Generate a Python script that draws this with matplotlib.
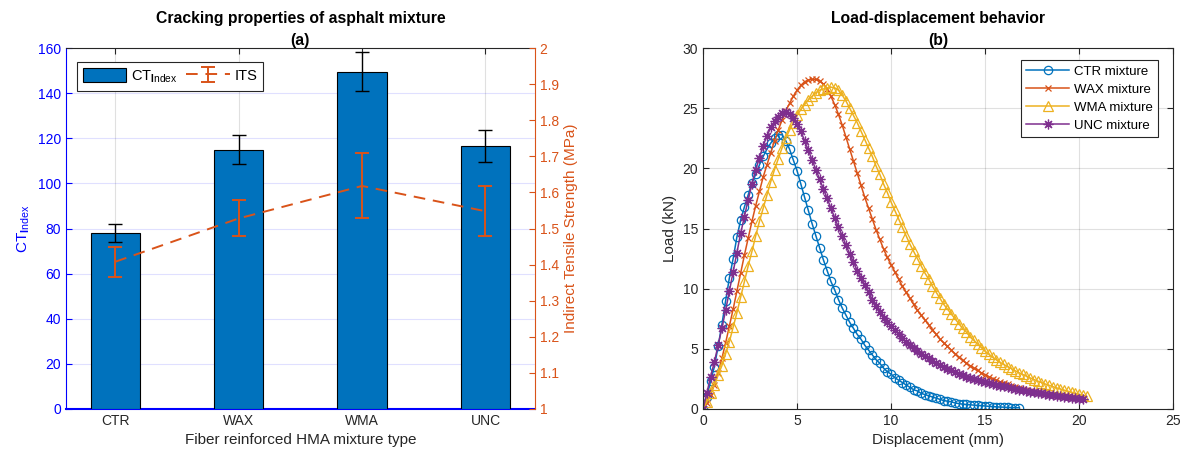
import numpy as np
import matplotlib
matplotlib.use("Agg")
import matplotlib.pyplot as plt

plt.rcParams['font.family'] = ['Liberation Sans', 'DejaVu Sans']
plt.rcParams['mathtext.fontset'] = 'custom'
plt.rcParams['mathtext.rm'] = 'Liberation Sans'
plt.rcParams['mathtext.bf'] = 'Liberation Sans:bold'
plt.rcParams['font.size'] = 10

# --- (a) cracking test results ---
mixtures = ['CTR', 'WAX', 'WMA', 'UNC']
ct_index = [78.0, 115.0, 149.5, 116.5]
ct_err = [4.0, 6.5, 8.7, 7.1]
its = [1.408, 1.528, 1.618, 1.548]
its_err = [0.041, 0.050, 0.090, 0.070]

# --- (b) load-displacement curves, sampled every 0.2 mm ---
step = 0.2
load_ctr = [0.0, 1.0, 2.3, 3.5, 5.2, 7.0, 9.0, 10.9, 12.5, 14.3, 15.7, 16.8, 17.8, 18.8,
            19.5, 20.3, 21.0, 21.6, 22.1, 22.5, 22.8, 22.8, 22.3, 21.6, 20.7, 19.8, 18.7,
            17.6, 16.5, 15.4, 14.4, 13.4, 12.4, 11.5, 10.6, 9.9, 9.1, 8.4, 7.8, 7.2, 6.7,
            6.2, 5.8, 5.3, 4.9, 4.5, 4.1, 3.8, 3.4, 3.1, 2.9, 2.6, 2.4, 2.2, 2.0, 1.8,
            1.6, 1.5, 1.3, 1.2, 1.1, 1.0, 0.9, 0.8, 0.7, 0.65, 0.6, 0.5, 0.45, 0.4, 0.38,
            0.35, 0.32, 0.3, 0.28, 0.25, 0.22, 0.2, 0.18, 0.16, 0.15, 0.13, 0.12, 0.11, 0.1]
load_wax = [0.0, 0.5, 1.2, 2.0, 3.0, 4.2, 5.5, 6.9, 8.3, 9.8, 11.3, 12.8, 14.2, 15.6,
            16.9, 18.1, 19.3, 20.3, 21.3, 22.3, 23.2, 24.0, 24.8, 25.4, 26.0, 26.5, 26.9,
            27.2, 27.35, 27.4, 27.4, 27.3, 27.0, 26.6, 26.0, 25.3, 24.5, 23.6, 22.6, 21.6,
            20.6, 19.6, 18.6, 17.6, 16.7, 15.8, 14.9, 14.1, 13.3, 12.6, 12.0, 11.4, 10.8,
            10.2, 9.7, 9.2, 8.7, 8.2, 7.8, 7.4, 7.0, 6.6, 6.2, 5.8, 5.5, 5.2, 4.9, 4.6,
            4.3, 4.05, 3.8, 3.6, 3.4, 3.2, 3.0, 2.85, 2.68, 2.53, 2.4, 2.27, 2.15, 2.05,
            1.95, 1.85, 1.75, 1.67, 1.6, 1.52, 1.45, 1.39, 1.33, 1.27, 1.22, 1.17, 1.12,
            1.08, 1.04, 1.0, 0.96, 0.93, 0.9, 0.87]
load_wma = [0.0, 0.6, 1.3, 2.0, 2.8, 3.6, 4.6, 5.6, 6.8, 8.0, 9.3, 10.6, 11.9, 13.1,
            14.4, 15.6, 16.7, 17.8, 18.9, 19.9, 20.8, 21.7, 22.5, 23.2, 23.8, 24.4, 24.9,
            25.3, 25.7, 26.0, 26.3, 26.5, 26.6, 26.7, 26.75, 26.7, 26.5, 26.1, 25.6, 25.0,
            24.4, 23.8, 23.1, 22.4, 21.7, 21.0, 20.2, 19.5, 18.7, 18.0, 17.2, 16.5, 15.8,
            15.1, 14.4, 13.7, 13.1, 12.5, 11.9, 11.3, 10.8, 10.2, 9.7, 9.2, 8.7, 8.3, 7.9,
            7.5, 7.1, 6.7, 6.4, 6.0, 5.7, 5.4, 5.1, 4.8, 4.55, 4.3, 4.08, 3.88, 3.7, 3.52,
            3.35, 3.18, 3.02, 2.87, 2.72, 2.58, 2.45, 2.32, 2.2, 2.08, 1.97, 1.86, 1.76,
            1.66, 1.57, 1.48, 1.39, 1.3, 1.22, 1.14, 1.05]
load_unc = [0.0, 1.3, 2.7, 3.9, 5.3, 6.7, 8.2, 9.8, 11.4, 13.0, 14.6, 16.0, 17.4, 18.7,
            19.9, 20.9, 21.9, 22.7, 23.4, 23.9, 24.3, 24.6, 24.65, 24.5, 24.2, 23.7, 23.1,
            22.3, 21.5, 20.7, 19.9, 19.1, 18.3, 17.5, 16.7, 15.9, 15.1, 14.4, 13.6, 12.9,
            12.2, 11.5, 10.9, 10.3, 9.7, 9.1, 8.6, 8.1, 7.6, 7.2, 6.9, 6.55, 6.2, 5.9,
            5.6, 5.35, 5.1, 4.85, 4.6, 4.4, 4.2, 4.0, 3.8, 3.65, 3.5, 3.35, 3.2, 3.05, 2.9,
            2.8, 2.7, 2.6, 2.5, 2.4, 2.3, 2.22, 2.15, 2.08, 2.01, 1.94, 1.87, 1.8, 1.74,
            1.68, 1.62, 1.56, 1.5, 1.45, 1.4, 1.35, 1.3, 1.25, 1.2, 1.15, 1.1, 1.06, 1.02,
            0.98, 0.94, 0.9, 0.86, 0.82]

blue = (0, 0.447, 0.741)
orange = (0.85, 0.325, 0.098)
yellow = (0.929, 0.694, 0.125)
purple = (0.494, 0.184, 0.556)
pure_blue = (0, 0, 1)
dark = (0.15, 0.15, 0.15)

fig = plt.figure(figsize=(11.84, 4.58), dpi=100)

# ---------------- panel (a) ----------------
ax1 = fig.add_axes([0.0557, 0.107, 0.396, 0.788])
pos = np.arange(1, len(mixtures) + 1)
ax1.bar(pos, ct_index, width=0.4, color=blue, edgecolor='black', linewidth=0.8,
        label=r'CT$_{\mathbf{I}\mathregular{ndex}}$', zorder=3)
ax1.errorbar(pos, ct_index, yerr=ct_err, fmt='none', ecolor='black', elinewidth=1,
             capsize=5, capthick=1, zorder=4)
ax1.set_xlim(0.6, 4.4)
ax1.set_ylim(0, 160)
ax1.set_yticks(np.arange(0, 161, 20))
ax1.set_xticks(pos)
ax1.set_xticklabels(mixtures)
ax1.set_ylabel(r'CT$_{\mathbf{I}\mathregular{ndex}}$', color=pure_blue, fontsize=11, labelpad=4)
ax1.set_xlabel('Fiber reinforced HMA mixture type', color=dark, fontsize=11)
ax1.tick_params(axis='y', colors=pure_blue, direction='in', length=4)
ax1.tick_params(axis='x', colors=dark, direction='in', length=4, top=True)
ax1.spines['left'].set_color(pure_blue)
ax1.spines['bottom'].set_color(pure_blue)
ax1.spines['bottom'].set_linewidth(1.5)
ax1.spines['top'].set_color(dark)
ax1.spines['right'].set_visible(False)
ax1.yaxis.grid(True, color=pure_blue, alpha=0.12, linewidth=0.8)
ax1.xaxis.grid(True, color='black', alpha=0.12, linewidth=0.8)
ax1.set_axisbelow(True)
ax1.set_title('Cracking properties of asphalt mixture\n(a)', fontweight='bold',
              fontsize=11.3, pad=2, linespacing=1.6)

ax2 = ax1.twinx()
ax2.errorbar(pos, its, yerr=its_err, color=orange, linestyle='--',
             linewidth=1.4, elinewidth=1.4, capsize=5, capthick=1.4,
             dashes=(6, 4), label='ITS')
ax2.set_ylim(1, 2)
ax2.set_yticks(np.round(np.arange(1, 2.01, 0.1), 1))
ax2.set_yticklabels(['1', '1.1', '1.2', '1.3', '1.4', '1.5', '1.6', '1.7', '1.8', '1.9', '2'])
ax2.set_ylabel('Indirect Tensile Strength (MPa)', color=orange, fontsize=11)
ax2.tick_params(axis='y', colors=orange, direction='in', length=4)
ax2.spines['right'].set_color(orange)
for s in ['left', 'top', 'bottom']:
    ax2.spines[s].set_visible(False)

# one legend box for both y axes, drawn on the top axes
h1, l1 = ax1.get_legend_handles_labels()
h2, l2 = ax2.get_legend_handles_labels()
leg = ax2.legend(h1 + h2, l1 + l2, loc='upper left', ncol=2, fontsize=10.5,
                 bbox_to_anchor=(0.023, 0.961), borderaxespad=0, frameon=True,
                 fancybox=False, handlelength=3, handleheight=1.0, columnspacing=0.6,
                 handletextpad=0.3, borderpad=0.4, edgecolor=dark, framealpha=1)
leg.get_frame().set_linewidth(0.8)

# ---------------- panel (b) ----------------
ax3 = fig.add_axes([0.5938, 0.107, 0.397, 0.788])
asterisk = (8, 2, 0)
curves = [
    (load_ctr, 'CTR mixture', blue, 'o', 6, 'none'),
    (load_wax, 'WAX mixture', orange, 'x', 5, orange),
    (load_wma, 'WMA mixture', yellow, '^', 7, 'none'),
    (load_unc, 'UNC mixture', purple, asterisk, 7, purple),
]
for load, name, col, mk, ms, mfc in curves:
    disp = step * np.arange(len(load))
    ax3.plot(disp, load, color=col, marker=mk, markersize=ms, markerfacecolor=mfc,
             markeredgecolor=col, markeredgewidth=0.9, linewidth=1.1, label=name)
ax3.set_xlim(0, 25)
ax3.set_ylim(0, 30)
ax3.set_xticks(np.arange(0, 26, 5))
ax3.set_yticks(np.arange(0, 31, 5))
ax3.set_xlabel('Displacement (mm)', color=dark, fontsize=11)
ax3.set_ylabel('Load (kN)', color=dark, fontsize=11)
ax3.tick_params(colors=dark, direction='in', length=4, top=True, right=True)
for s in ax3.spines.values():
    s.set_color(dark)
ax3.grid(True, color='black', alpha=0.12, linewidth=0.8)
ax3.set_axisbelow(True)
ax3.set_title('Load-displacement behavior\n(b)', fontweight='bold', fontsize=11.3,
              pad=2, linespacing=1.6)
leg3 = ax3.legend(loc='upper right', bbox_to_anchor=(0.968, 0.967), borderaxespad=0,
                  fontsize=9.5, fancybox=False, edgecolor=dark, handlelength=3.2,
                  borderpad=0.4, labelspacing=0.45, handletextpad=0.4, framealpha=1)
leg3.get_frame().set_linewidth(0.8)

fig.savefig('out.png', dpi=100)
